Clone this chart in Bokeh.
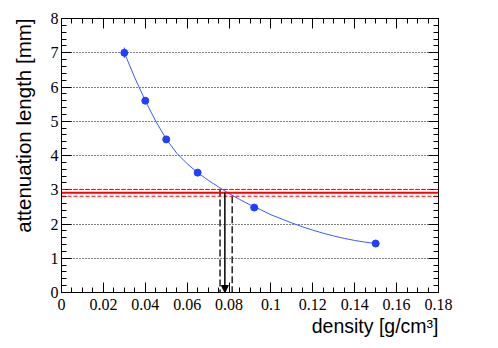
from bokeh.plotting import figure
from bokeh.models import Range1d, FixedTicker, LinearAxis, Span, Arrow, NormalHead, ColumnDataSource, Title
from bokeh.embed import file_html
from bokeh.resources import INLINE

# measured points
density = [0.030, 0.040, 0.050, 0.065, 0.092, 0.150]
atten = [7.00, 5.60, 4.47, 3.50, 2.48, 1.43]
atten_err = [0.15, 0.08, 0.06, 0.04, 0.04, 0.03]

# fitted curve
fit_density = [0.030, 0.035, 0.040, 0.045, 0.050, 0.055, 0.060, 0.065, 0.070, 0.075,
               0.080, 0.085, 0.090, 0.095, 0.100, 0.105, 0.110, 0.115, 0.120, 0.125,
               0.130, 0.135, 0.140, 0.145, 0.150]
fit_atten = [7.00, 6.27, 5.60, 5.00, 4.48, 4.07, 3.76, 3.50, 3.28, 3.08,
             2.89, 2.72, 2.56, 2.42, 2.27, 2.15, 2.03, 1.92, 1.82, 1.73,
             1.65, 1.58, 1.52, 1.47, 1.43]

# measured attenuation band and derived density
atten_meas = 2.91
atten_band = [3.01, 2.81]
dens_meas = 0.078
dens_band = [0.0757, 0.0815]

x_ticks = [0, 0.02, 0.04, 0.06, 0.08, 0.10, 0.12, 0.14, 0.16, 0.18]
x_tick_labels = ["0", "0.02", "0.04", "0.06", "0.08", "0.1", "0.12", "0.14", "0.16", "0.18"]
y_ticks = [0, 1, 2, 3, 4, 5, 6, 7, 8]
x_title = "density [g/cm³]"
y_title = "attenuation length [mm]"

x_minor = [round(i * 0.005, 4) for i in range(0, 37)]
y_minor = [round(i * 0.2, 2) for i in range(0, 41)]

p = figure(width=498, height=348, x_range=Range1d(0, 0.18), y_range=Range1d(0, 8),
           output_backend="svg", toolbar_location=None,
           min_border_left=61, min_border_right=60, min_border_top=18, min_border_bottom=56)
p.background_fill_color = "white"
p.border_fill_color = "white"
p.outline_line_color = "black"
p.outline_line_width = 1

xt = FixedTicker(ticks=x_ticks, minor_ticks=x_minor)
yt = FixedTicker(ticks=y_ticks, minor_ticks=y_minor)

def style_axis(ax, ticker):
    ax.ticker = ticker
    ax.axis_line_color = "black"
    ax.major_tick_in = 10
    ax.major_tick_out = 0
    ax.minor_tick_in = 5
    ax.minor_tick_out = 0
    ax.major_tick_line_color = "black"
    ax.minor_tick_line_color = "black"
    ax.major_label_text_font = "Liberation Serif"
    ax.major_label_text_font_size = "16px"
    ax.major_label_text_color = "black"

xa = p.xaxis[0]
style_axis(xa, xt)
xa.major_label_overrides = {t: l for t, l in zip(x_ticks, x_tick_labels)}
xa.major_label_standoff = 6

ya = p.yaxis[0]
style_axis(ya, yt)
ya.major_label_standoff = 3

top = LinearAxis()
style_axis(top, xt)
top.major_label_overrides = {t: "" for t in x_ticks}
top.major_label_text_font_size = "1px"
top.major_label_text_color = None
top.major_label_standoff = 0
p.add_layout(top, "above")

right = LinearAxis()
style_axis(right, yt)
right.major_label_overrides = {t: "" for t in y_ticks}
right.major_label_text_font_size = "1px"
right.major_label_text_color = None
right.major_label_standoff = 0
p.add_layout(right, "right")

p.add_layout(Title(text=x_title, align="right", text_font="Liberation Sans",
                   text_font_size="19.5px", text_font_style="normal", text_color="black",
                   standoff=0, offset=0), "below")
p.add_layout(Title(text=y_title, align="right", vertical_align="top", text_font="Liberation Sans",
                   text_font_size="20.5px", text_font_style="normal", text_color="black",
                   standoff=21, offset=0), "left")

p.xgrid.visible = False
p.ygrid.grid_line_color = "black"
p.ygrid.grid_line_dash = "1 2"
p.ygrid.grid_line_width = 1

# red band
p.add_layout(Span(location=atten_meas, dimension="width", line_color="red", line_width=2))
for yb in atten_band:
    p.add_layout(Span(location=yb, dimension="width", line_color="red", line_width=1, line_dash="4 2"))

# vertical dashed lines from band to axis
p.segment(x0=dens_band, y0=atten_band, x1=dens_band, y1=[0, 0],
          line_color="#222222", line_width=1.5, line_dash="7 3")

# arrow
p.add_layout(Arrow(end=NormalHead(size=7, fill_color="black", line_color="black"),
                   x_start=dens_meas, y_start=atten_meas, x_end=dens_meas, y_end=0,
                   line_color="black", line_width=1.5))

# fit curve
p.line(fit_density, fit_atten, line_color="#3a5cff", line_width=1)

# error bars and points
src = ColumnDataSource(dict(x=density, y=atten,
                            lo=[a - e for a, e in zip(atten, atten_err)],
                            hi=[a + e for a, e in zip(atten, atten_err)]))
p.segment(x0="x", y0="lo", x1="x", y1="hi", source=src, line_color="#2040ff", line_width=1)
p.scatter("x", "y", source=src, size=7, fill_color="#2040ff", line_color="#2040ff")

open("out.html", "w").write(file_html(p, INLINE))
